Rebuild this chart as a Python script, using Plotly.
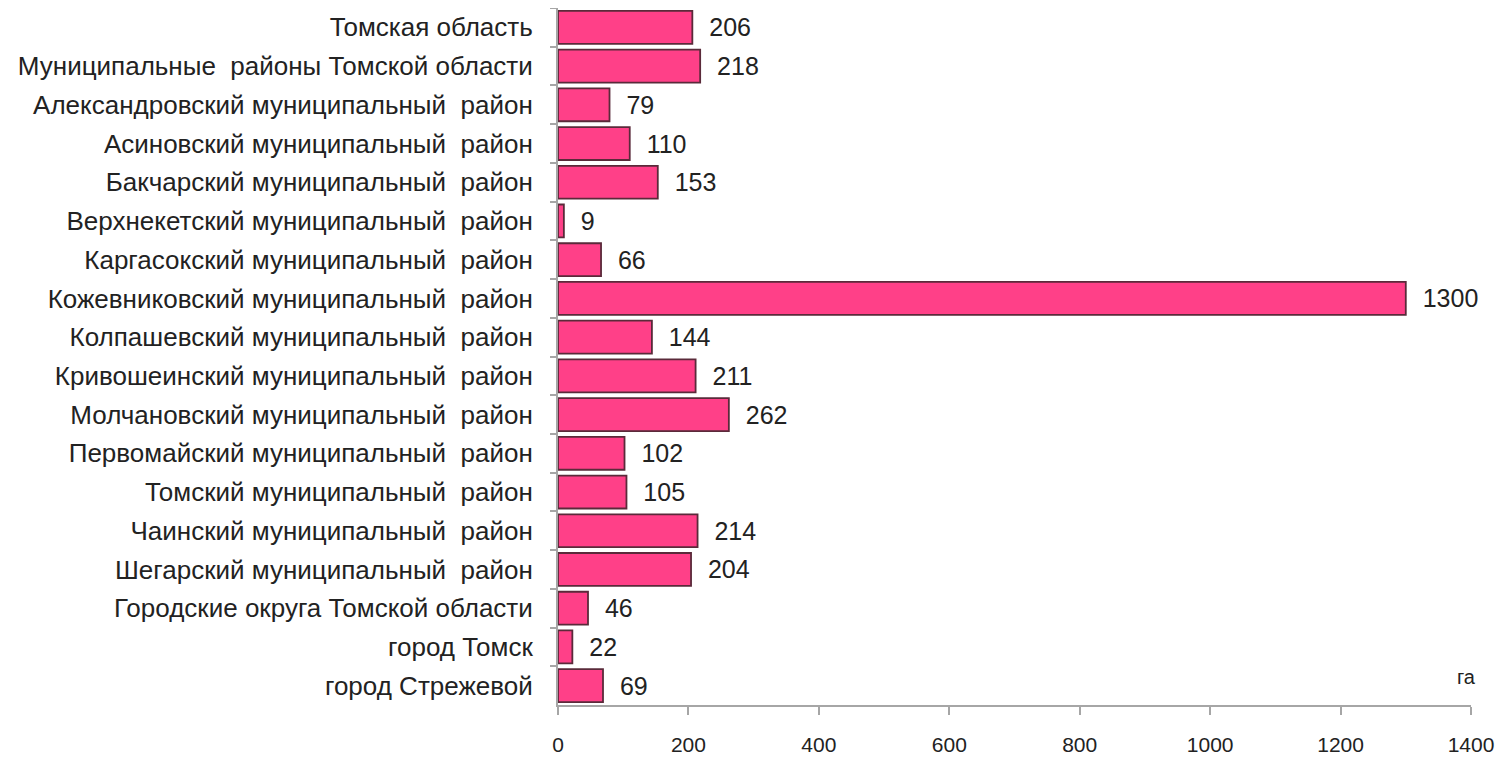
import plotly.graph_objects as go

# площадь, га
regions = [
    "Томская область",
    "Муниципальные  районы Томской области",
    "Александровский муниципальный  район",
    "Асиновский муниципальный  район",
    "Бакчарский муниципальный  район",
    "Верхнекетский муниципальный  район",
    "Каргасокский муниципальный  район",
    "Кожевниковский муниципальный  район",
    "Колпашевский муниципальный  район",
    "Кривошеинский муниципальный  район",
    "Молчановский муниципальный  район",
    "Первомайский муниципальный  район",
    "Томский муниципальный  район",
    "Чаинский муниципальный  район",
    "Шегарский муниципальный  район",
    "Городские округа Томской области",
    "город Томск",
    "город Стрежевой",
]
values = [206, 218, 79, 110, 153, 9, 66, 1300, 144, 211, 262, 102, 105, 214, 204, 46, 22, 69]
x_ticks = [0, 200, 400, 600, 800, 1000, 1200, 1400]

# svg collapses double spaces, so keep them with a non-breaking space
labels = [r.replace("  ", "\u00a0 ") for r in regions]
# a little gap between bar end and value
texts = ["\u00a0\u00a0" + str(v) for v in values]

fig = go.Figure(go.Bar(
    x=values,
    y=labels,
    orientation="h",
    marker=dict(color="#ff4088", line=dict(color="#5a2a3a", width=1.8)),
    text=texts,
    textposition="outside",
    textangle=0,
    textfont=dict(size=25, color="#222222", family="Liberation Sans, Arial"),
    cliponaxis=False,
))

# page body has an 8px margin, so the figure is a bit smaller than the window
fig.update_layout(
    width=1495, height=752,
    margin=dict(l=550, r=32, t=0, b=55, autoexpand=False),
    plot_bgcolor="white", paper_bgcolor="white",
    bargap=0.15,
    showlegend=False,
    font=dict(family="Liberation Sans, Arial", size=20, color="#222222"),
    uniformtext=dict(minsize=25, mode="show"),
)

fig.update_xaxes(
    range=[0, 1400], tickvals=x_ticks, showgrid=False, zeroline=False,
    showline=True, linecolor="#a6a6a6", linewidth=2,
    ticks="outside", ticklen=8, tickcolor="#a6a6a6", tickwidth=2,
    ticklabelstandoff=12, tickfont=dict(size=21), automargin=False,
)
fig.update_yaxes(
    autorange="reversed", showgrid=False, zeroline=False,
    showline=True, linecolor="#a6a6a6", linewidth=2,
    ticks="outside", ticklen=6, tickcolor="#a6a6a6", tickwidth=2,
    tickson="boundaries", ticklabelstandoff=18, tickfont=dict(size=26),
    automargin=False,
)

fig.add_annotation(text="га", x=1, xref="paper", xanchor="right", xshift=7,
                   y=(705 - 677) / 697, yref="paper", yanchor="middle",
                   showarrow=False, font=dict(size=20))

fig.write_html("out.html")
